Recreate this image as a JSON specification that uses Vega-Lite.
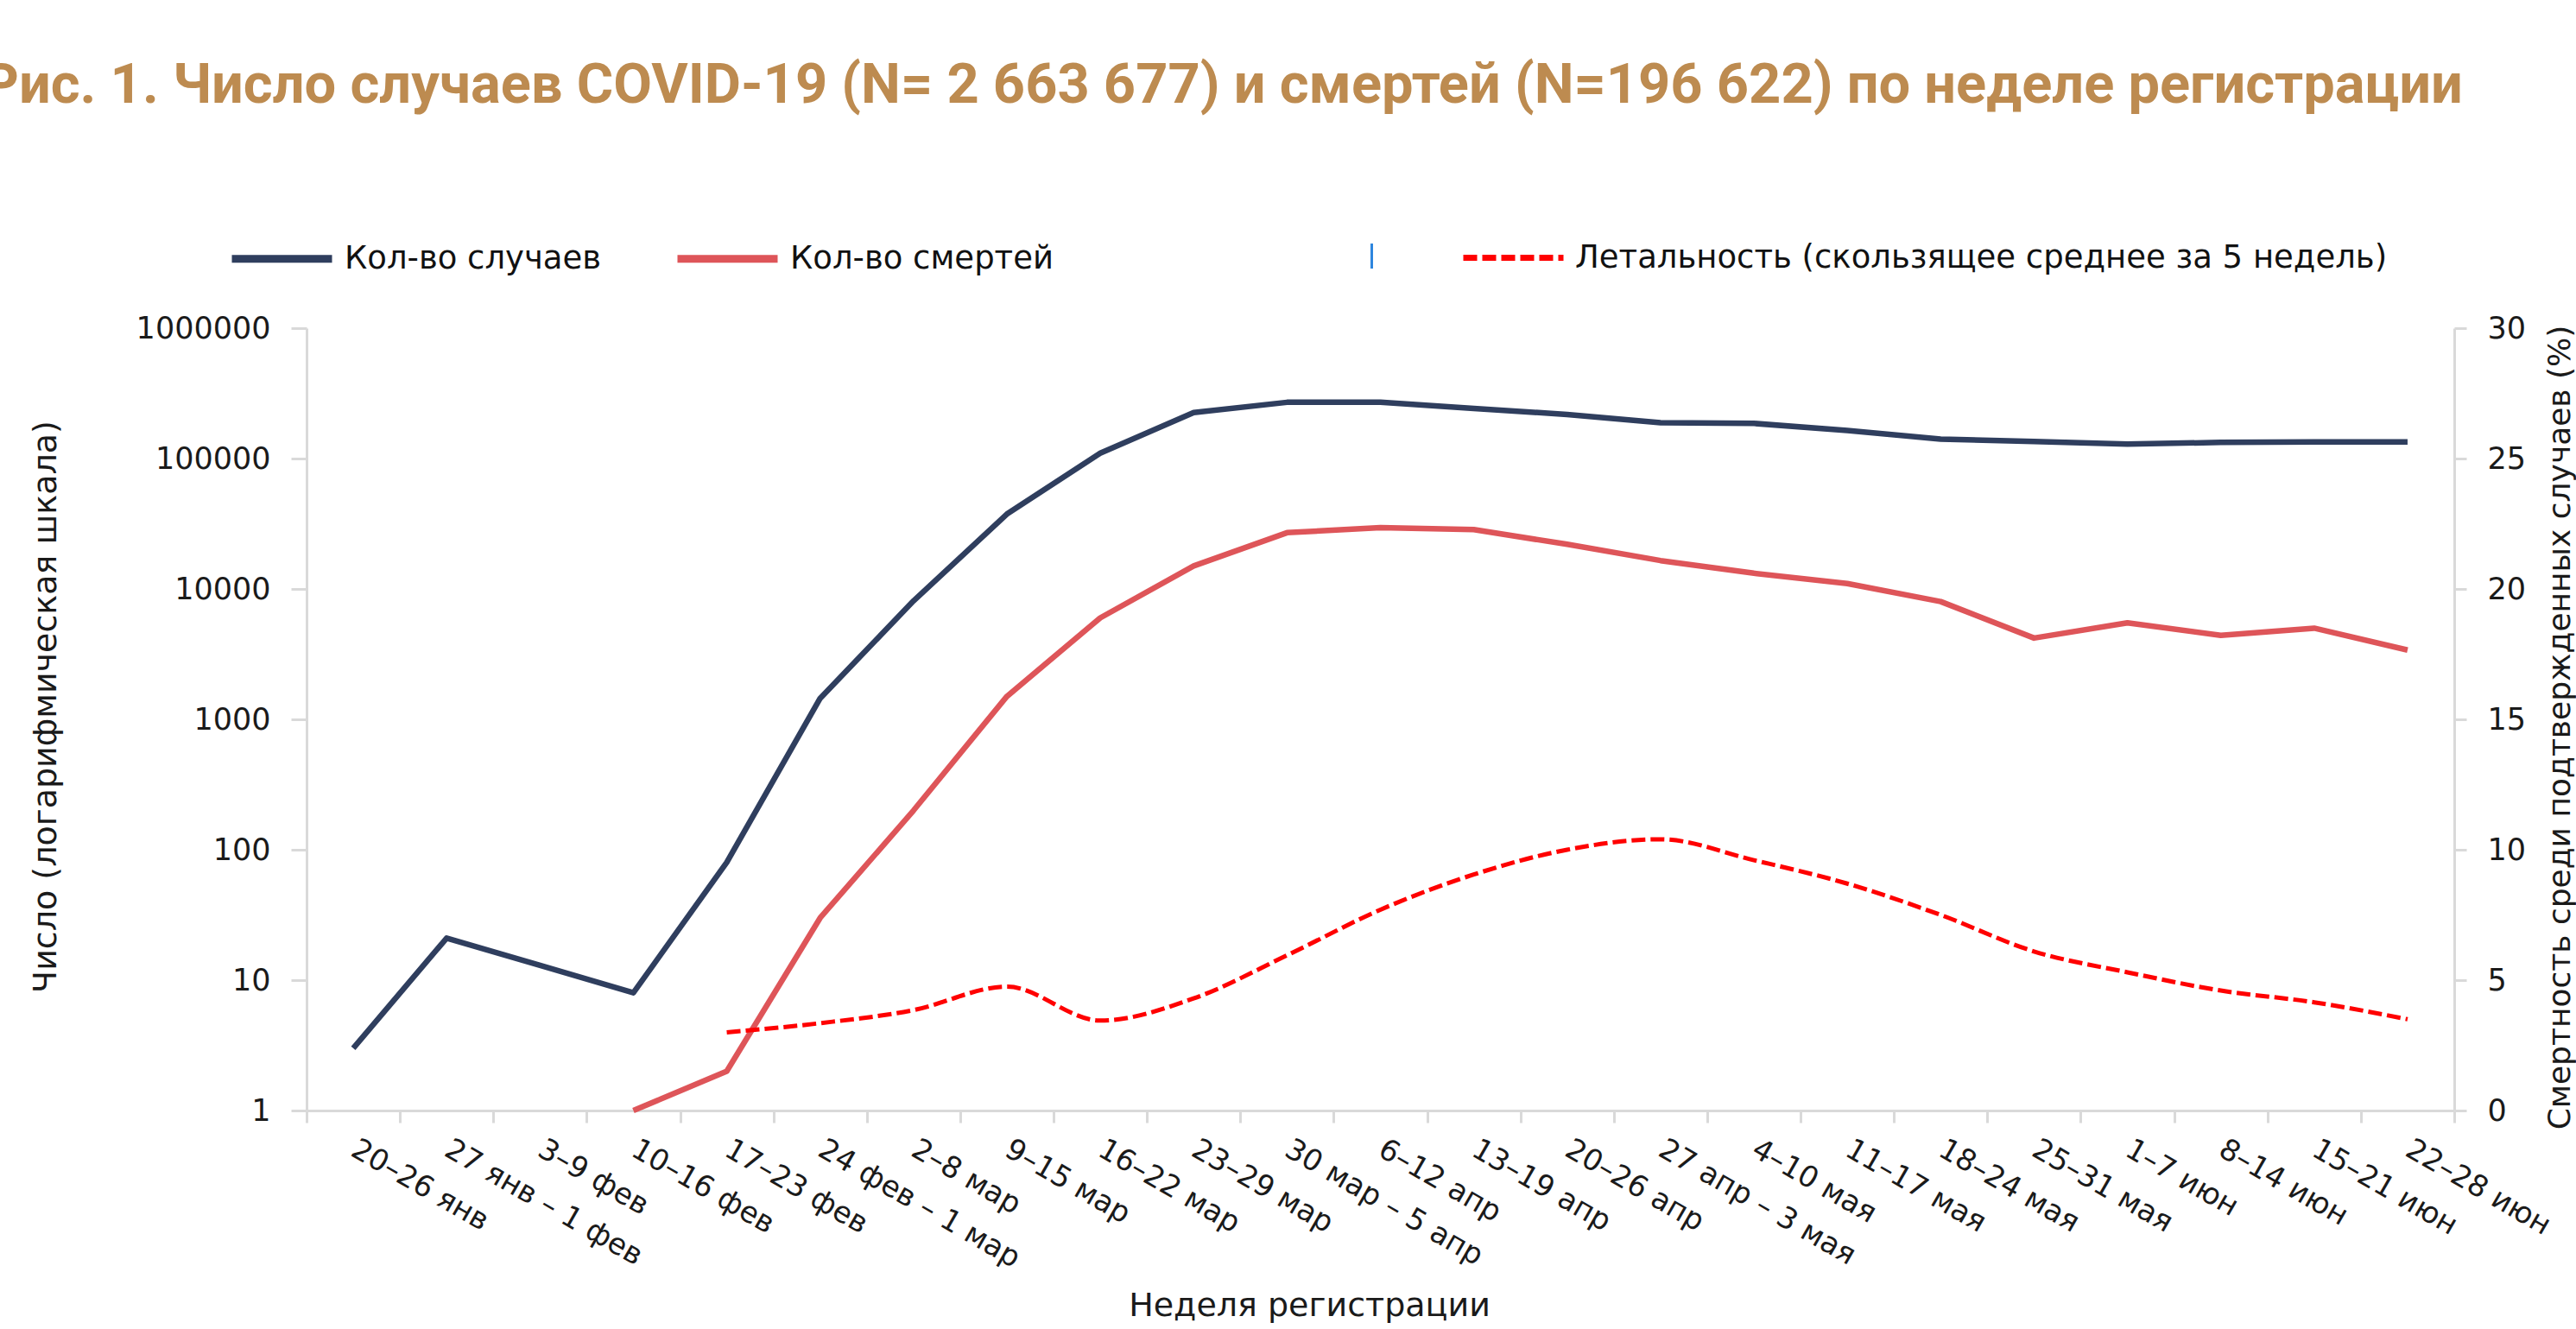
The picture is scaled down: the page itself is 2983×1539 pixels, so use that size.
{
  "$schema": "https://vega.github.io/schema/vega-lite/v6.json",
  "width": 2487,
  "height": 906,
  "autosize": {"type": "none"},
  "padding": {"left": 355, "top": 380, "right": 141, "bottom": 253},
  "background": "white",
  "title": {
    "text": "Рис. 1. Число случаев COVID-19 (N= 2 663 677) и смертей (N=196 622) по неделе регистрации",
    "anchor": "start",
    "frame": "group",
    "dx": -375,
    "dy": -100,
    "font": "Roboto",
    "fontSize": 65,
    "fontWeight": "bold",
    "color": "#BD8B50"
  },
  "datasets": {
    "rows": [
      {"week": "20–26 янв", "idx": 0, "series": "Кол-во случаев", "value": 3},
      {"week": "27 янв – 1 фев", "idx": 1, "series": "Кол-во случаев", "value": 21},
      {"week": "3–9 фев", "idx": 2, "series": "Кол-во случаев", "value": 13},
      {"week": "10–16 фев", "idx": 3, "series": "Кол-во случаев", "value": 8},
      {"week": "17–23 фев", "idx": 4, "series": "Кол-во случаев", "value": 80},
      {"week": "24 фев – 1 мар", "idx": 5, "series": "Кол-во случаев", "value": 1450},
      {"week": "2–8 мар", "idx": 6, "series": "Кол-во случаев", "value": 8100},
      {"week": "9–15 мар", "idx": 7, "series": "Кол-во случаев", "value": 37500},
      {"week": "16–22 мар", "idx": 8, "series": "Кол-во случаев", "value": 110000},
      {"week": "23–29 мар", "idx": 9, "series": "Кол-во случаев", "value": 225000},
      {"week": "30 мар – 5 апр", "idx": 10, "series": "Кол-во случаев", "value": 270000},
      {"week": "6–12 апр", "idx": 11, "series": "Кол-во случаев", "value": 270000},
      {"week": "13–19 апр", "idx": 12, "series": "Кол-во случаев", "value": 242000},
      {"week": "20–26 апр", "idx": 13, "series": "Кол-во случаев", "value": 218000},
      {"week": "27 апр – 3 мая", "idx": 14, "series": "Кол-во случаев", "value": 188000},
      {"week": "4–10 мая", "idx": 15, "series": "Кол-во случаев", "value": 186000},
      {"week": "11–17 мая", "idx": 16, "series": "Кол-во случаев", "value": 164000},
      {"week": "18–24 мая", "idx": 17, "series": "Кол-во случаев", "value": 141000},
      {"week": "25–31 мая", "idx": 18, "series": "Кол-во случаев", "value": 135000},
      {"week": "1–7 июн", "idx": 19, "series": "Кол-во случаев", "value": 129000},
      {"week": "8–14 июн", "idx": 20, "series": "Кол-во случаев", "value": 133000},
      {"week": "15–21 июн", "idx": 21, "series": "Кол-во случаев", "value": 134000},
      {"week": "22–28 июн", "idx": 22, "series": "Кол-во случаев", "value": 134000},
      {"week": "10–16 фев", "idx": 3, "series": "Кол-во смертей", "value": 1},
      {"week": "17–23 фев", "idx": 4, "series": "Кол-во смертей", "value": 2},
      {"week": "24 фев – 1 мар", "idx": 5, "series": "Кол-во смертей", "value": 30},
      {"week": "2–8 мар", "idx": 6, "series": "Кол-во смертей", "value": 200},
      {"week": "9–15 мар", "idx": 7, "series": "Кол-во смертей", "value": 1500},
      {"week": "16–22 мар", "idx": 8, "series": "Кол-во смертей", "value": 6000},
      {"week": "23–29 мар", "idx": 9, "series": "Кол-во смертей", "value": 15000},
      {"week": "30 мар – 5 апр", "idx": 10, "series": "Кол-во смертей", "value": 27000},
      {"week": "6–12 апр", "idx": 11, "series": "Кол-во смертей", "value": 29500},
      {"week": "13–19 апр", "idx": 12, "series": "Кол-во смертей", "value": 28500},
      {"week": "20–26 апр", "idx": 13, "series": "Кол-во смертей", "value": 22000},
      {"week": "27 апр – 3 мая", "idx": 14, "series": "Кол-во смертей", "value": 16500},
      {"week": "4–10 мая", "idx": 15, "series": "Кол-во смертей", "value": 13200},
      {"week": "11–17 мая", "idx": 16, "series": "Кол-во смертей", "value": 11000},
      {"week": "18–24 мая", "idx": 17, "series": "Кол-во смертей", "value": 8000},
      {"week": "25–31 мая", "idx": 18, "series": "Кол-во смертей", "value": 4200},
      {"week": "1–7 июн", "idx": 19, "series": "Кол-во смертей", "value": 5500},
      {"week": "8–14 июн", "idx": 20, "series": "Кол-во смертей", "value": 4400},
      {"week": "15–21 июн", "idx": 21, "series": "Кол-во смертей", "value": 5000},
      {"week": "22–28 июн", "idx": 22, "series": "Кол-во смертей", "value": 3400},
      {"week": "17–23 фев", "idx": 4, "series": "Летальность (скользящее среднее за 5 недель)", "value": 3.0},
      {"week": "24 фев – 1 мар", "idx": 5, "series": "Летальность (скользящее среднее за 5 недель)", "value": 3.35},
      {"week": "2–8 мар", "idx": 6, "series": "Летальность (скользящее среднее за 5 недель)", "value": 3.85},
      {"week": "9–15 мар", "idx": 7, "series": "Летальность (скользящее среднее за 5 недель)", "value": 4.75},
      {"week": "16–22 мар", "idx": 8, "series": "Летальность (скользящее среднее за 5 недель)", "value": 3.45},
      {"week": "23–29 мар", "idx": 9, "series": "Летальность (скользящее среднее за 5 недель)", "value": 4.3},
      {"week": "30 мар – 5 апр", "idx": 10, "series": "Летальность (скользящее среднее за 5 недель)", "value": 5.95},
      {"week": "6–12 апр", "idx": 11, "series": "Летальность (скользящее среднее за 5 недель)", "value": 7.7},
      {"week": "13–19 апр", "idx": 12, "series": "Летальность (скользящее среднее за 5 недель)", "value": 9.05},
      {"week": "20–26 апр", "idx": 13, "series": "Летальность (скользящее среднее за 5 недель)", "value": 10.0},
      {"week": "27 апр – 3 мая", "idx": 14, "series": "Летальность (скользящее среднее за 5 недель)", "value": 10.4},
      {"week": "4–10 мая", "idx": 15, "series": "Летальность (скользящее среднее за 5 недель)", "value": 9.6},
      {"week": "11–17 мая", "idx": 16, "series": "Летальность (скользящее среднее за 5 недель)", "value": 8.7},
      {"week": "18–24 мая", "idx": 17, "series": "Летальность (скользящее среднее за 5 недель)", "value": 7.5},
      {"week": "25–31 мая", "idx": 18, "series": "Летальность (скользящее среднее за 5 недель)", "value": 6.1},
      {"week": "1–7 июн", "idx": 19, "series": "Летальность (скользящее среднее за 5 недель)", "value": 5.3},
      {"week": "8–14 июн", "idx": 20, "series": "Летальность (скользящее среднее за 5 недель)", "value": 4.6},
      {"week": "15–21 июн", "idx": 21, "series": "Летальность (скользящее среднее за 5 недель)", "value": 4.15},
      {"week": "22–28 июн", "idx": 22, "series": "Летальность (скользящее среднее за 5 недель)", "value": 3.5}
    ]
  },
  "data": {"name": "rows"},
  "encoding": {
    "x": {
      "field": "week",
      "type": "nominal",
      "sort": ["20–26 янв","27 янв – 1 фев","3–9 фев","10–16 фев","17–23 фев","24 фев – 1 мар","2–8 мар","9–15 мар","16–22 мар","23–29 мар","30 мар – 5 апр","6–12 апр","13–19 апр","20–26 апр","27 апр – 3 мая","4–10 мая","11–17 мая","18–24 мая","25–31 мая","1–7 июн","8–14 июн","15–21 июн","22–28 июн"],
      "scale": {"type": "band", "paddingInner": 0, "paddingOuter": 0},
      "bandPosition": 0.5,
      "axis": {
        "title": "Неделя регистрации",
        "titleX": 1161,
        "titleY": 226,
        "titleBaseline": "middle",
        "titleFontSize": 38,
        "labelAngle": 30,
        "labelAlign": "left",
        "labelBaseline": "middle",
        "labelPadding": 28,
        "labelFontSize": 34,
        "labelLimit": 0,
        "tickBand": "extent",
        "tickSize": 14,
        "labelOverlap": false
      }
    },
    "order": {"field": "idx", "type": "quantitative"}
  },
  "layer": [
    {
      "transform": [{"filter": "datum.series !== 'Летальность (скользящее среднее за 5 недель)'"}],
      "mark": {"type": "line", "strokeWidth": 6.5, "strokeJoin": "round"},
      "encoding": {
        "y": {
          "field": "value",
          "type": "quantitative",
          "scale": {"type": "log", "domain": [1, 1000000]},
          "axis": {
            "orient": "left",
            "title": "Число (логарифмическая шкала)",
            "titleX": -302,
            "titleY": 438,
            "titleAngle": -90,
            "titleBaseline": "middle",
            "titleFontSize": 38,
            "values": [1, 10, 100, 1000, 10000, 100000, 1000000],
            "format": "d",
            "tickSize": 18,
            "labelPadding": 24,
            "labelFontSize": 35
          }
        },
        "color": {
          "field": "series",
          "type": "nominal",
          "scale": {"domain": ["Кол-во случаев", "Кол-во смертей"], "range": ["#2F3E5E", "#DE5559"]},
          "legend": {
            "orient": "none",
            "legendX": -91,
            "legendY": -143,
            "direction": "horizontal",
            "title": null,
            "symbolType": "stroke",
            "symbolSize": 13456,
            "symbolStrokeWidth": 9,
            "labelFont": "DejaVu Sans",
            "labelFontSize": 37,
            "labelColor": "#111111",
            "labelOffset": 10,
            "columnPadding": 69,
            "labelLimit": 0
          }
        }
      }
    },
    {
      "transform": [{"filter": "datum.series === 'Летальность (скользящее среднее за 5 недель)'"}],
      "mark": {"type": "line", "strokeWidth": 5, "color": "#FF0000", "interpolate": "monotone"},
      "encoding": {
        "y": {
          "field": "value",
          "type": "quantitative",
          "scale": {"domain": [0, 30]},
          "axis": {
            "orient": "right",
            "title": "Смертность среди подтвержденных случаев (%)",
            "titleX": 122,
            "titleY": 462,
            "titleAngle": -90,
            "titleBaseline": "middle",
            "titleFontSize": 36,
            "values": [0, 5, 10, 15, 20, 25, 30],
            "tickSize": 14,
            "labelPadding": 24,
            "labelFontSize": 35
          }
        },
        "strokeDash": {
          "field": "series",
          "type": "nominal",
          "scale": {"domain": ["Летальность (скользящее среднее за 5 недель)"], "range": [[16, 6]]},
          "legend": {
            "orient": "none",
            "legendX": 1336,
            "legendY": -143,
            "direction": "horizontal",
            "title": null,
            "symbolType": "stroke",
            "symbolSize": 13456,
            "symbolStrokeWidth": 7,
            "labelFont": "DejaVu Sans",
            "labelFontSize": 37,
            "labelColor": "#111111",
            "labelOffset": 10,
            "labelLimit": 0
          }
        }
      }
    },
    {
      "transform": [{"filter": "datum.series === 'нет'"}],
      "mark": {"type": "line", "strokeWidth": 3},
      "encoding": {
        "y": {
          "field": "value",
          "type": "quantitative",
          "axis": null
        },
        "color": {
          "field": "series",
          "type": "nominal",
          "scale": {"domain": [" "], "range": ["#2E86DE"]},
          "legend": {
            "orient": "none",
            "legendX": 1174,
            "legendY": -143,
            "direction": "horizontal",
            "title": null,
            "symbolType": "M0,-0.25L0,0.25",
            "symbolSize": 13456,
            "symbolStrokeWidth": 3,
            "labelFont": "DejaVu Sans",
            "labelFontSize": 37,
            "labelOffset": 10,
            "labelLimit": 0
          }
        }
      }
    }
  ],
  "resolve": {"scale": {"y": "independent", "color": "independent"}, "legend": {"color": "independent"}},
  "config": {
    "view": {"stroke": null},
    "axis": {
      "grid": false,
      "domainColor": "#D9D9D9",
      "domainWidth": 3,
      "tickColor": "#D9D9D9",
      "tickWidth": 3,
      "labelFont": "DejaVu Sans",
      "labelColor": "#1a1a1a",
      "titleFont": "DejaVu Sans",
      "titleFontWeight": "normal",
      "titleColor": "#1a1a1a"
    }
  }
}
